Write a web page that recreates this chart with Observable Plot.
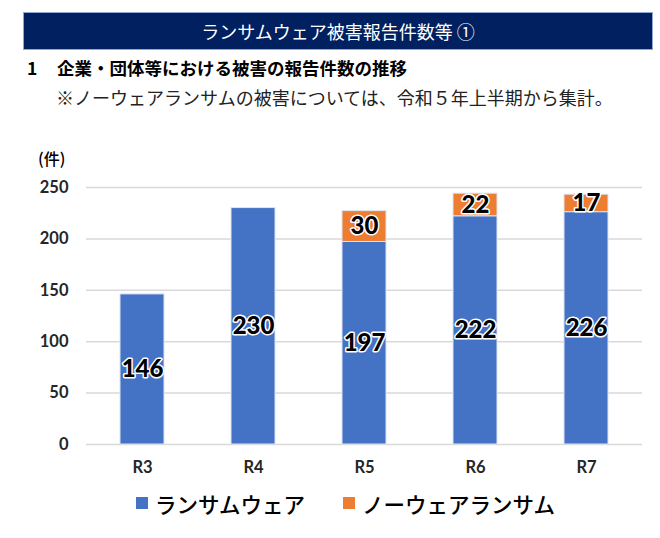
<!DOCTYPE html>
<html lang="ja">
<head>
<meta charset="utf-8">
<script src="https://cdn.jsdelivr.net/npm/d3@7"></script>
<script src="https://cdn.jsdelivr.net/npm/@observablehq/plot@0.6"></script>
<style>
  html, body { margin: 0; padding: 0; background: #fff; }
  #page { position: relative; width: 660px; height: 538px; overflow: hidden;
          font-family: "Noto Sans CJK JP", "Noto Sans", sans-serif; color: #000; }
  #banner { position: absolute; left: 23px; top: 12px; width: 628px; height: 36px;
            background: #002060; border: 1px solid #8ea9d8; color: #fff;
            font-size: 18px; line-height: 36px; text-align: center; }
  #heading { position: absolute; left: 27px; top: 55px; font-size: 17.5px; font-weight: 700; white-space: nowrap; }
  #heading .num { display: inline-block; width: 30px; }
  #note { position: absolute; left: 56px; top: 84px; font-size: 18px; white-space: nowrap; color: #222; }
  #unit { position: absolute; left: 38px; top: 146px; font-size: 16px; font-weight: 500; }
  #chart { position: absolute; left: 0; top: 140px; }
  #legend { position: absolute; top: 488px; left: 0; width: 660px; height: 30px; font-size: 21.5px; font-weight: 500; }
  .item { position: absolute; top: 0; display: flex; align-items: center; height: 30px; white-space: nowrap; }
  .swatch { width: 12px; height: 12px; margin-right: 7px; }
</style>
</head>
<body>
<div id="page">
  <div id="banner">ランサムウェア被害報告件数等 ①</div>
  <div id="heading"><span class="num">1</span>企業・団体等における被害の報告件数の推移</div>
  <div id="note">※ノーウェアランサムの被害については、令和５年上半期から集計。</div>
  <div id="unit">(件)</div>
  <div id="chart"></div>
  <div id="legend"></div>
</div>
<script>
// Fiscal years (Reiwa)
const years = ["R3", "R4", "R5", "R6", "R7"];
// Ransomware reports per year
const ransomware = [146, 230, 197, 222, 226];
// No-ware ransom reports (counted from R5 onward)
const nowareRansom = [0, 0, 30, 22, 17];
// Series names and colours
const seriesNames = ["ランサムウェア", "ノーウェアランサム"];
const seriesColors = ["#4472C4", "#ED7D31"];
const yTicks = [0, 50, 100, 150, 200, 250];

const rows = [];
years.forEach((yr, i) => {
  rows.push({year: yr, type: seriesNames[0], value: ransomware[i]});
  rows.push({year: yr, type: seriesNames[1], value: nowareRansom[i]});
});
const labelled = rows.filter(d => d.value > 0);

const numFont = "Lato, 'Noto Sans', sans-serif";

const chart = Plot.plot({
  width: 660,
  height: 340,
  marginTop: 47,
  marginBottom: 36,
  marginLeft: 86,
  marginRight: 18,
  style: {fontFamily: numFont, background: "transparent"},
  x: {domain: years, paddingInner: 0.6, paddingOuter: 0.3, label: null},
  y: {domain: [0, 250], label: null},
  color: {domain: seriesNames, range: seriesColors},
  marks: [
    Plot.gridY(yTicks, {stroke: "#d9d9d9", strokeOpacity: 1, strokeWidth: 1.5}),
    Plot.axisY({ticks: yTicks, tickSize: 0, tickPadding: 18, fontSize: 16.5, fontWeight: 700,
                fill: "#262626", label: null}),
    Plot.axisX({tickSize: 0, tickPadding: 17, fontSize: 16.5, fontWeight: 700, fill: "#262626", label: null}),
    Plot.barY(rows, Plot.stackY({x: "year", y: "value", fill: "type", order: seriesNames,
                                 stroke: "#dce6f4", strokeWidth: 1, inset: 0})),
    Plot.text(labelled, Plot.stackY({x: "year", y: "value", z: "type", order: seriesNames,
                                     text: d => String(d.value),
                                     fontSize: 24, fontWeight: 900, fill: "#000",
                                     stroke: "#fff", strokeWidth: 3, paintOrder: "stroke",
                                     lineAnchor: "middle"}))
  ]
});
document.getElementById("chart").appendChild(chart);

// Legend under the chart
const legend = document.getElementById("legend");
const legendX = [136, 343];
seriesNames.forEach((name, i) => {
  const item = document.createElement("div");
  item.className = "item";
  item.style.left = legendX[i] + "px";
  const sw = document.createElement("span");
  sw.className = "swatch";
  sw.style.background = seriesColors[i];
  const lab = document.createElement("span");
  lab.textContent = name;
  item.appendChild(sw);
  item.appendChild(lab);
  legend.appendChild(item);
});
</script>
</body>
</html>
